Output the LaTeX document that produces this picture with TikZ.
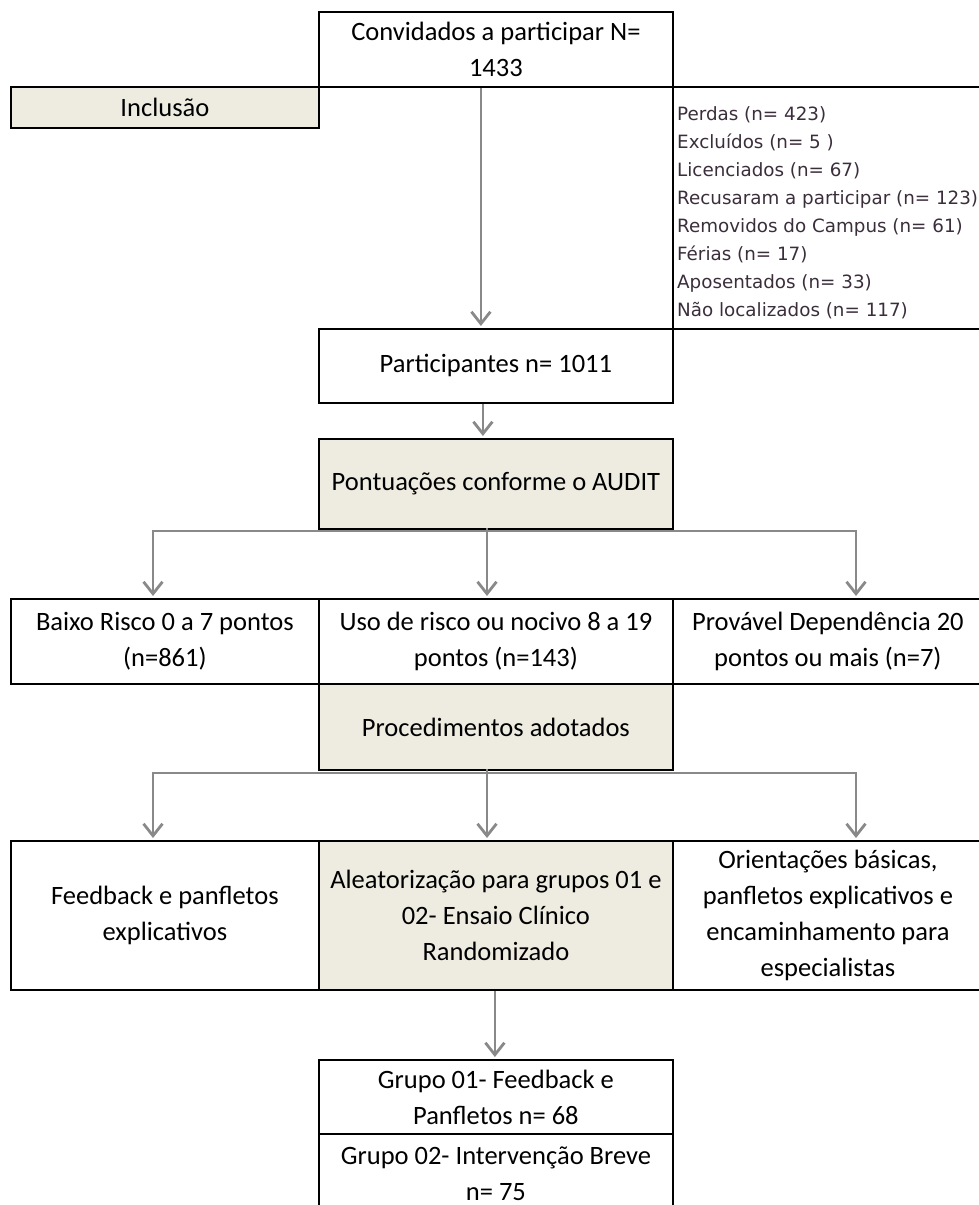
\documentclass[tikz,border=0pt]{standalone}
\usepackage{fontspec}
\setmainfont{Carlito}
\newfontfamily\listafonte{DejaVu Sans}
\usetikzlibrary{arrows.meta}
\definecolor{bege}{HTML}{EEECE1}
\definecolor{cinza}{HTML}{898989}
\definecolor{roxo}{HTML}{3B2E3B}
\begin{document}
\begin{tikzpicture}[x=1pt,y=-1pt,anchor=north west,
    caixa/.style={draw,line width=1.8pt,inner sep=0pt,align=center,font=\fontsize{26.5}{36}\selectfont},
    tan/.style={caixa,fill=bege},
    seta/.style={draw=cinza,line width=2.8pt,-{Straight Barb[length=12pt,width=19pt]},shorten >=2pt},
    ramo/.style={draw=cinza,line width=2.8pt,line cap=rect}]
    \useasboundingbox (0,0) rectangle (979,1205);
    % inclusao
    \node[caixa,minimum width=354,minimum height=75] (conv) at (318,11) {Convidados a participar N=\\1433};
    \node[tan,minimum width=308,minimum height=41] (incl) at (10,86) {Inclus\~ao};
    \node[caixa,minimum width=310,minimum height=242] (perdas) at (672,86) {};
    \node[inner sep=0pt,align=left,text=roxo,font=\listafonte\fontsize{18.3}{28}\selectfont] (lista) at (677,106) {Perdas (n= 423)\\Exclu\'idos (n= 5 )\\Licenciados (n= 67)\\Recusaram a participar (n= 123)\\Removidos do Campus (n= 61)\\F\'erias (n= 17)\\Aposentados (n= 33)\\N\~ao localizados (n= 117)};
    \node[caixa,minimum width=354,minimum height=74] (part) at (318,328) {Participantes n= 1011};
    \node[tan,minimum width=354,minimum height=90] (pont) at (318,438) {Pontua\c c\~oes conforme o AUDIT};
    % classificacao
    \node[caixa,minimum width=308,minimum height=85] (baixo) at (10,598) {Baixo Risco 0 a 7 pontos\\(n=861)};
    \node[caixa,minimum width=354,minimum height=85] (uso) at (318,598) {Uso de risco ou nocivo 8 a 19\\pontos (n=143)};
    \node[caixa,minimum width=310,minimum height=85] (prov) at (672,598) {Prov\'avel Depend\^encia 20\\pontos ou mais (n=7)};
    \node[tan,minimum width=354,minimum height=86] (proc) at (318,683) {Procedimentos adotados};
    % procedimentos
    \node[caixa,minimum width=308,minimum height=149] (feed) at (10,840) {Feedback e panfletos\\explicativos};
    \node[tan,minimum width=354,minimum height=149] (alea) at (318,840) {Aleatoriza\c c\~ao para grupos 01 e\\02- Ensaio Cl\'inico\\Randomizado};
    \node[caixa,minimum width=310,minimum height=149] (orie) at (672,840) {Orienta\c c\~oes b\'asicas,\\panfletos explicativos e\\encaminhamento para\\especialistas};
    \node[caixa,minimum width=354,minimum height=74] (g1) at (318,1059) {Grupo 01- Feedback e\\Panfletos n= 68};
    \node[caixa,minimum width=354,minimum height=80] (g2) at (318,1133) {Grupo 02- Interven\c c\~ao Breve\\n= 75};
    % setas
    \draw[seta] ([xshift=-15]conv.south) -- ([xshift=-15]part.north);
    \draw[seta] ([xshift=-13]part.south) -- ([xshift=-13]pont.north);
    \coordinate (r1a) at (153,531); \coordinate (r1b) at (487,531); \coordinate (r1c) at (856,531);
    \draw[ramo] (pont.south -| r1b) -- (r1b);
    \draw[ramo] (r1a) -- (r1c);
    \draw[seta] (r1a) -- (r1a |- baixo.north);
    \draw[seta] (r1b) -- (r1b |- uso.north);
    \draw[seta] (r1c) -- (r1c |- prov.north);
    \coordinate (r2a) at (153,773); \coordinate (r2b) at (487,773); \coordinate (r2c) at (856,773);
    \draw[ramo] (proc.south -| r2b) -- (r2b);
    \draw[ramo] (r2a) -- (r2c);
    \draw[seta] (r2a) -- (r2a |- feed.north);
    \draw[seta] (r2b) -- (r2b |- alea.north);
    \draw[seta] (r2c) -- (r2c |- orie.north);
    \draw[seta] ([xshift=-1]alea.south) -- ([xshift=-1]g1.north);
\end{tikzpicture}
\end{document}
